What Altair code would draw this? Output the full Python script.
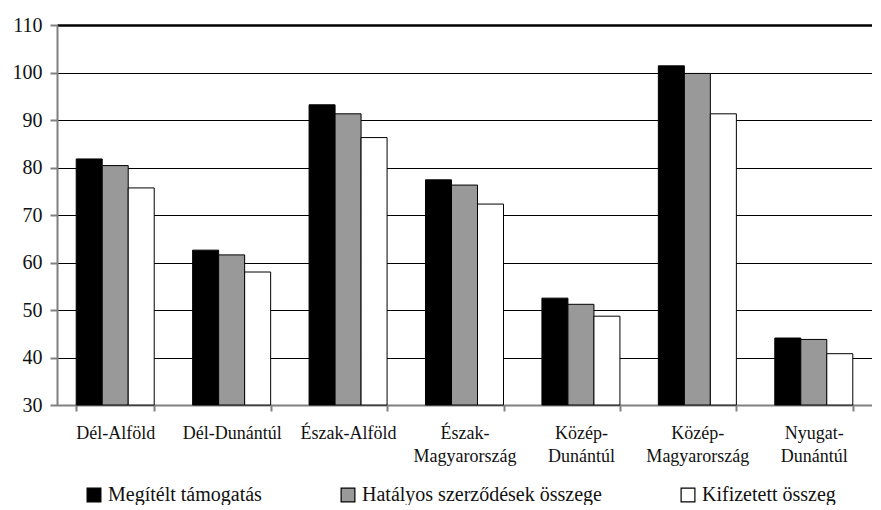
import altair as alt
import pandas as pd

regions = ["Dél-Alföld", "Dél-Dunántúl", "Észak-Alföld", "Észak-Magyarország",
           "Közép-Dunántúl", "Közép-Magyarország", "Nyugat-Dunántúl"]
series = ["Megítélt támogatás", "Hatályos szerződések összege", "Kifizetett összeg"]
megitelt = [81.8, 62.6, 93.2, 77.4, 52.5, 101.4, 44.1]
hatalyos = [80.4, 61.6, 91.3, 76.3, 51.2, 99.8, 43.8]
kifizetett = [75.7, 58.0, 86.3, 72.3, 48.7, 91.3, 40.8]
colors = ["#000000", "#999999", "#ffffff"]
y_ticks = [30, 40, 50, 60, 70, 80, 90, 100, 110]

rows = []
for vals, s in zip([megitelt, hatalyos, kifizetett], series):
    for r, v in zip(regions, vals):
        rows.append({"region": r, "series": s, "value": v})
df = pd.DataFrame(rows)

FONT = "Liberation Serif"

label_expr = ("indexof(datum.label, 'Magyarország') >= 0 || indexof(datum.label, 'Közép-D') >= 0 "
              "|| indexof(datum.label, 'Nyugat') >= 0 ? "
              "[split(datum.label, '-')[0] + '-', split(datum.label, '-')[1]] : datum.label")

chart = alt.Chart(df).mark_bar(stroke="black", strokeWidth=1).encode(
    x=alt.X("region:N", sort=regions, title=None,
            scale=alt.Scale(paddingInner=0.33, paddingOuter=0.165),
            axis=alt.Axis(labelAngle=0, labelExpr=label_expr, labelFont=FONT,
                          labelFontSize=18, labelColor="#111", labelPadding=13,
                          labelLineHeight=23,
                          domainColor="#808080", domainWidth=2, tickColor="#808080",
                          tickWidth=2, tickSize=6, tickBand="extent", grid=False)),
    xOffset=alt.XOffset("series:N", sort=series),
    y=alt.Y("value:Q", title=None,
            scale=alt.Scale(domain=[30, 110], nice=False, zero=False),
            axis=alt.Axis(values=y_ticks, labelFont=FONT, labelFontSize=20,
                          labelColor="#111", labelPadding=8,
                          domainColor="#808080", domainWidth=2, tickColor="#808080",
                          tickWidth=2, tickSize=7,
                          grid=True, gridColor="black",
                          gridWidth=alt.condition("datum.value == 110", alt.value(2.5), alt.value(1.2)))),
    y2=alt.datum(30),
    fill=alt.Fill("series:N", sort=series,
                  scale=alt.Scale(domain=series, range=colors),
                  legend=alt.Legend(title=None, orient="none", legendX=27, legendY=460,
                                    direction="horizontal", symbolType="square",
                                    symbolSize=190, symbolStrokeColor="black",
                                    symbolStrokeWidth=1.2, labelFont=FONT,
                                    labelFontSize=20, labelColor="#111", labelLimit=0,
                                    columnPadding=76, labelOffset=4)),
).properties(width=815, height=380, padding={"left": 4, "top": 7, "right": 0, "bottom": 0}
).configure_view(stroke=None)

chart.save("out.html", embed_options={"renderer": "svg", "actions": False})
